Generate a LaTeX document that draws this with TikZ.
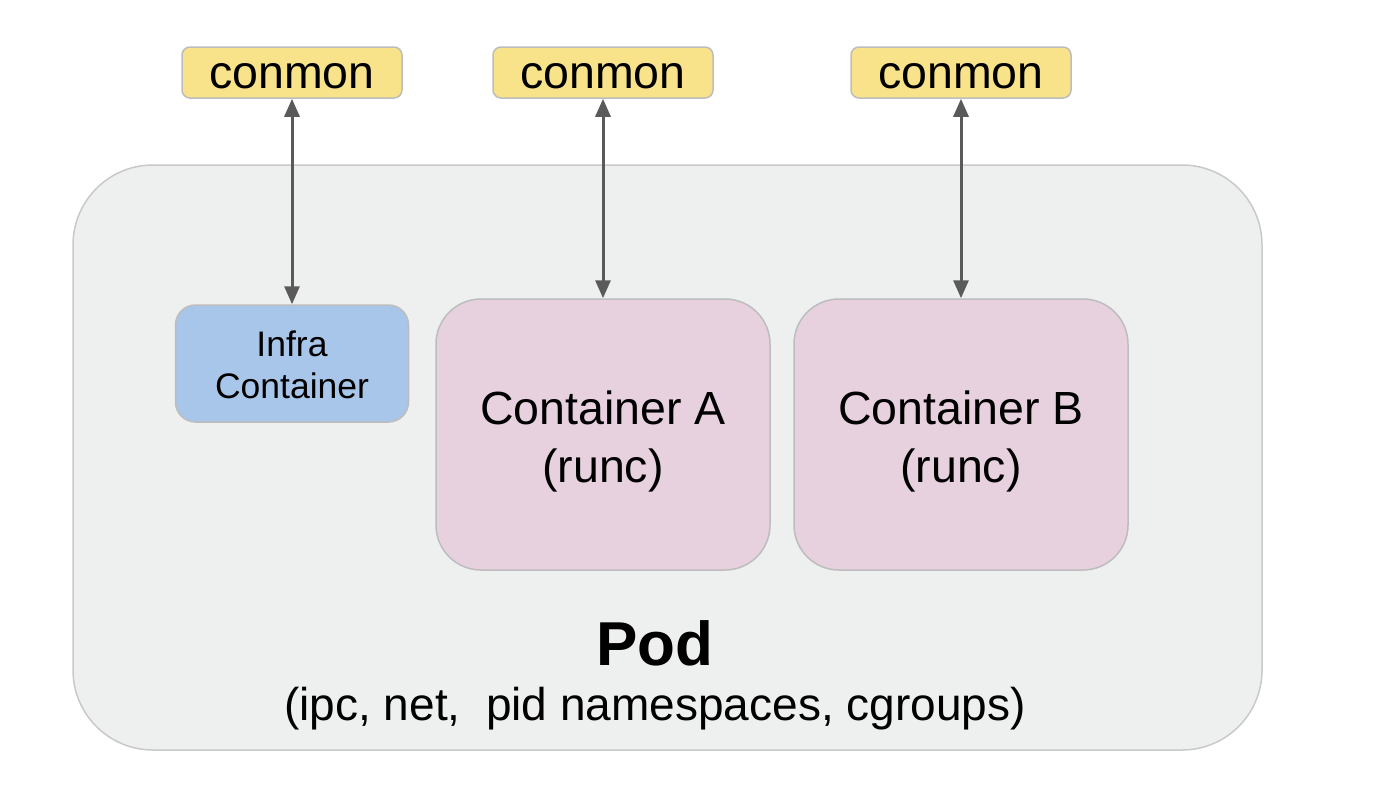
\documentclass[tikz,border=0pt]{standalone}
\usepackage{fontspec}
\setmainfont{Liberation Sans}
\usepackage{tikz}
\usetikzlibrary{positioning, arrows.meta}
\usepackage{xcolor}

\definecolor{podfill}{HTML}{EEEFEF}
\definecolor{podline}{HTML}{C9C9C9}
\definecolor{conmonfill}{HTML}{F8E38B}
\definecolor{infrafill}{HTML}{A8C6E9}
\definecolor{runcfill}{HTML}{E8D1DE}
\definecolor{boxline}{HTML}{BDBDBD}
\definecolor{arrowline}{HTML}{5A5A5A}

\tikzset{
  every box/.style={draw=boxline, line width=1.5pt, inner sep=0pt},
  box conmon/.style={fill=conmonfill, rounded corners=8pt, minimum width=220pt, minimum height=51pt},
  box infra/.style={fill=infrafill, rounded corners=20pt, minimum width=233pt, minimum height=117pt},
  box runc/.style={fill=runcfill, rounded corners=45pt, minimum width=334pt, minimum height=271pt},
  box pod/.style={fill=podfill, draw=podline, rounded corners=80pt, minimum width=1189pt, minimum height=585pt},
  text conmon/.style={font=\fontsize{46.5}{50}\selectfont},
  text infra/.style={align=center, font=\fontsize{35.5}{42}\selectfont},
  text runc/.style={align=center, font=\fontsize{46.5}{58}\selectfont},
  link/.style={<->, draw=arrowline, line width=3pt}
}

\begin{document}
\begin{tikzpicture}[x=1pt, y=-1pt, >={Triangle[width=15pt,length=18pt]}]
      \useasboundingbox (0,0) rectangle (1382,790);

      % The pod
      \node [every box/.try, box pod/.try] (pod) at (667.5,457.5) {};
      \node [font=\fontsize{62}{70}\selectfont\bfseries] (pod-label) at (655,643) {Pod};
      \node [font=\fontsize{46}{50}\selectfont] (pod-ns) at (655,709)
        {(ipc, net,\ \ pid namespaces, cgroups)};

      % Containers inside the pod
      \node [every box/.try, box infra/.try] (infra) at (292,363.5) {};
      \node [text infra/.try] (infra-text) at ([yshift=-1pt]infra.center) {Infra\\Container};
      \foreach \m/\x in {A/603,B/961}{
        \node [every box/.try, box runc/.try] (container-\m) at (\x,434.5) {};
        \node [text runc/.try] (container-\m-text) at ([yshift=-7pt]container-\m.center) {Container \m\\(runc)};
      }

      % One conmon per container
      \foreach \x [count=\i] in {292,603,961}{
        \node [every box/.try, box conmon/.try] (conmon-\i) at (\x,72.5) {};
        \node [text conmon/.try] (conmon-\i-text) at ([yshift=-4pt]conmon-\i.center) {conmon};
      }

      % Draw the connecting arrows
      \draw [link] (conmon-1.south) -- (infra.north);
      \draw [link] (conmon-2.south) -- (container-A.north);
      \draw [link] (conmon-3.south) -- (container-B.north);
    \end{tikzpicture}
\end{document}
